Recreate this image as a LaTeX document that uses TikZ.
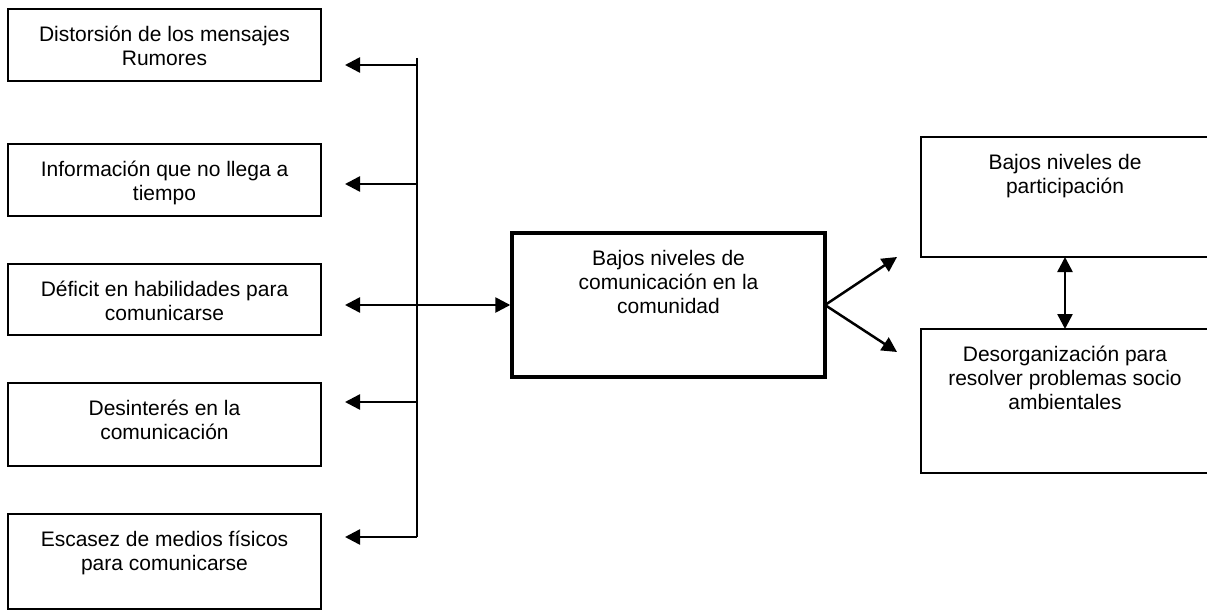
\documentclass[tikz,border=0pt]{standalone}
\usepackage{fontspec}
\setmainfont{Liberation Sans}
\usetikzlibrary{arrows.meta,positioning}

\begin{document}
\begin{tikzpicture}[x=1pt, y=-1pt,
        caja/.style={draw, line width=1.5pt, inner sep=0pt, outer sep=0pt, anchor=north west},
        texto/.style={align=center, inner sep=0pt, anchor=north, font=\fontsize{21}{24.2}\selectfont},
        flecha/.style={line width=2.5pt, -{Triangle[length=15pt, width=15pt]}},
        dobleflecha/.style={line width=2.5pt, {Triangle[length=15pt, width=15pt]}-{Triangle[length=15pt, width=15pt]}}]
    \useasboundingbox (0,0) rectangle (1207,610);

    % Causas (columna izquierda)
    \foreach \n/\y/\h/\txt in {1/9/72/{Distorsión de los mensajes\\Rumores},
                               2/144/72/{Información que no llega a\\tiempo},
                               3/264/71/{Déficit en habilidades para\\comunicarse},
                               4/383/83/{Desinterés en la\\comunicación},
                               5/514/95/{Escasez de medios físicos\\para comunicarse}} {
        \node[caja, minimum width=313pt, minimum height=\h pt] (c\n) at (8,\y) {};
        \node[texto, below=15pt of c\n.north] (t\n) {\strut\txt};
    }

    % Problema central
    \node[caja, line width=3.5pt, minimum width=313pt, minimum height=144pt] (centro) at (512,233) {};
    \node[texto, below=15pt of centro.north] (tcentro) {\strut Bajos niveles de\\comunicación en la\\comunidad};

    % Efectos (columna derecha)
    \node[caja, minimum width=288pt, minimum height=120pt] (e1) at (921,137) {};
    \node[texto, below=15pt of e1.north] (te1) {\strut Bajos niveles de\\participación};
    \node[caja, minimum width=288pt, minimum height=144pt] (e2) at (921,329) {};
    \node[texto, below=15pt of e2.north] (te2) {\strut Desorganización para\\resolver problemas socio\\ambientales};

    % Tronco vertical
    \coordinate (arriba) at (417,58);
    \foreach \n/\y in {1/65, 2/184, 3/305, 4/402, 5/537} {
        \coordinate (r\n) at (417,\y);
        \coordinate (p\n) at (345,\y);
    }
    \draw[line width=2.2pt] (arriba) -- (r5);

    % Flechas hacia las causas
    \foreach \n in {1,2,4,5} {
        \draw[flecha] (r\n) -- (p\n);
    }
    \draw[dobleflecha] (p3) -- ([xshift=-1.7pt]centro.west);

    % Flechas hacia los efectos
    \coordinate (q1) at (897,257);
    \coordinate (q2) at (897,352);
    \draw[flecha] (centro.east) -- (q1);
    \draw[flecha] (centro.east) -- (q2);
    \draw[dobleflecha] (e1.south) -- (e2.north);
\end{tikzpicture}
\end{document}
